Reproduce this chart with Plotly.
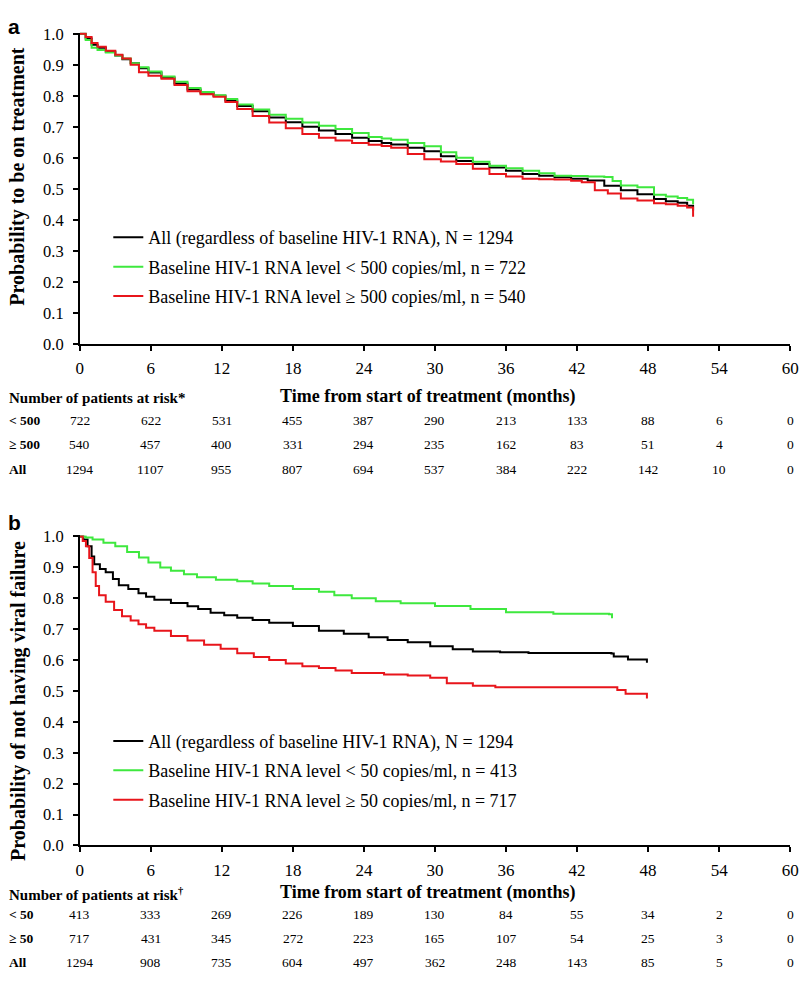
import plotly.graph_objects as go

# ---------------- data ----------------
# Panel a: probability to be on treatment
a_all_t = [0, 0.5, 1.0, 1.5, 2.2, 3.0, 3.6, 4.3, 5.0, 5.8, 6.9, 8.0, 9.1, 10.2, 11.3, 12.3, 13.3, 14.6, 16.0, 17.4,
           18.8, 20.2, 21.6, 23.0, 24.4, 25.5, 26.3, 27.7, 29.1, 30.5, 31.8, 33.2, 34.6, 36.0, 37.4, 38.8, 40.1,
           41.5, 42.9, 44.3, 45.7, 47.1, 48.5, 49.5, 50.5, 51.3, 51.8]
a_all_p = [1.0, 0.985, 0.965, 0.955, 0.942, 0.93, 0.918, 0.905, 0.889, 0.875, 0.859, 0.84, 0.82, 0.81, 0.80, 0.785,
           0.767, 0.75, 0.730, 0.715, 0.70, 0.688, 0.677, 0.665, 0.654, 0.648, 0.643, 0.632, 0.621, 0.605, 0.59,
           0.58, 0.569, 0.558, 0.548, 0.542, 0.537, 0.532, 0.527, 0.51, 0.495, 0.482, 0.467, 0.46, 0.455, 0.445,
           0.43]

a_lo_t = [0, 0.5, 1.0, 1.5, 2.2, 3.0, 3.6, 4.3, 5.0, 5.8, 6.9, 8.0, 9.1, 10.2, 11.3, 12.3, 13.3, 14.6, 16.0, 17.4,
          18.8, 20.2, 21.6, 23.0, 24.4, 25.5, 26.3, 27.7, 29.1, 30.5, 31.8, 33.2, 34.6, 36.0, 37.4, 38.8, 40.1,
          41.5, 42.9, 44.3, 45.0, 45.7, 47.1, 48.5, 49.5, 50.5, 51.3, 51.8]
a_lo_p = [1.0, 0.98, 0.955, 0.948, 0.94, 0.93, 0.92, 0.905, 0.892, 0.878, 0.862, 0.845, 0.825, 0.812, 0.802, 0.79,
          0.772, 0.756, 0.739, 0.726, 0.714, 0.703, 0.693, 0.68, 0.667, 0.662, 0.658, 0.648, 0.637, 0.618, 0.60,
          0.587, 0.574, 0.566, 0.558, 0.55, 0.542, 0.541, 0.54, 0.538, 0.525, 0.511, 0.505, 0.481, 0.475, 0.47,
          0.465, 0.45]

a_hi_t = [0, 0.5, 1.0, 1.5, 2.2, 3.0, 3.6, 4.3, 5.0, 5.8, 6.9, 8.0, 9.1, 10.2, 11.3, 12.3, 13.3, 14.6, 16.0, 17.4,
          18.8, 20.2, 21.6, 23.0, 24.4, 25.5, 26.3, 27.7, 29.1, 30.5, 31.8, 33.2, 34.6, 36.0, 37.4, 38.8, 40.1,
          41.5, 42.4, 43.5, 44.6, 45.7, 47.1, 48.5, 49.5, 50.5, 51.3, 51.8]
a_hi_p = [1.0, 0.99, 0.97, 0.958, 0.945, 0.932, 0.92, 0.9, 0.876, 0.865, 0.855, 0.835, 0.815, 0.805, 0.797, 0.78,
          0.757, 0.735, 0.714, 0.695, 0.677, 0.665, 0.656, 0.648, 0.642, 0.638, 0.632, 0.612, 0.595, 0.588, 0.58,
          0.565, 0.548, 0.54, 0.532, 0.531, 0.53, 0.526, 0.521, 0.495, 0.485, 0.469, 0.462, 0.453, 0.45, 0.445,
          0.44, 0.41]

# Panel b: probability of not having viral failure
b_all_t = [0, 0.3, 0.66, 1.0, 1.22, 1.7, 2.19, 2.8, 3.3, 4.1, 4.96, 5.6, 6.3, 7.7, 9.1, 10.0, 11.05, 12.2, 13.3,
           14.6, 16.0, 18.0, 20.2, 22.3, 24.4, 26.0, 27.7, 29.6, 31.5, 33.2, 35.5, 37.9, 44.9, 45.1, 46.3, 47.9]
b_all_p = [1.0, 0.99, 0.968, 0.935, 0.91, 0.895, 0.884, 0.862, 0.842, 0.83, 0.816, 0.805, 0.795, 0.785, 0.774,
           0.765, 0.753, 0.745, 0.737, 0.73, 0.721, 0.71, 0.695, 0.685, 0.674, 0.665, 0.658, 0.645, 0.635, 0.628,
           0.625, 0.623, 0.621, 0.612, 0.602, 0.591]

b_lo_t = [0, 0.5, 1.08, 2.0, 3.0, 4.0, 5.0, 5.8, 6.8, 7.7, 8.8, 9.9, 11.5, 13.3, 14.6, 16.0, 18.0, 20.2, 21.5,
          22.97, 25.0, 27.1, 30.0, 33.0, 36.0, 40.0, 44.7, 44.95]
b_lo_p = [1.0, 0.997, 0.99, 0.98, 0.968, 0.95, 0.932, 0.916, 0.9, 0.889, 0.878, 0.868, 0.86, 0.855, 0.848, 0.84,
          0.83, 0.821, 0.81, 0.8, 0.79, 0.784, 0.775, 0.765, 0.755, 0.75, 0.748, 0.735]

b_hi_t = [0, 0.25, 0.52, 0.8, 1.08, 1.35, 1.63, 2.19, 2.9, 3.57, 4.3, 4.96, 5.6, 6.3, 7.7, 9.1, 10.5, 11.9, 13.3,
          14.7, 16.0, 17.4, 18.8, 20.2, 21.6, 22.97, 25.7, 27.7, 29.6, 31.0, 33.2, 35.1, 45.3, 45.4, 46.1, 47.9]
b_hi_p = [1.0, 0.985, 0.968, 0.93, 0.884, 0.84, 0.81, 0.789, 0.762, 0.742, 0.728, 0.716, 0.705, 0.695, 0.678,
          0.663, 0.65, 0.637, 0.622, 0.61, 0.6, 0.589, 0.58, 0.574, 0.566, 0.558, 0.553, 0.55, 0.543, 0.525, 0.517,
          0.512, 0.512, 0.503, 0.491, 0.476]

x_ticks = [0, 6, 12, 18, 24, 30, 36, 42, 48, 54, 60]

a_names = ["All (regardless of baseline HIV-1 RNA), N = 1294",
           "Baseline HIV-1 RNA level < 500 copies/ml, n = 722",
           "Baseline HIV-1 RNA level \u2265 500 copies/ml, n = 540"]
b_names = ["All (regardless of baseline HIV-1 RNA), N = 1294",
           "Baseline HIV-1 RNA level < 50 copies/ml, n = 413",
           "Baseline HIV-1 RNA level \u2265 50 copies/ml, n = 717"]

a_risk_labels = ["< 500", "\u2265 500", "All"]
a_risk = [[722, 622, 531, 455, 387, 290, 213, 133, 88, 6, 0],
          [540, 457, 400, 331, 294, 235, 162, 83, 51, 4, 0],
          [1294, 1107, 955, 807, 694, 537, 384, 222, 142, 10, 0]]
b_risk_labels = ["< 50", "\u2265 50", "All"]
b_risk = [[413, 333, 269, 226, 189, 130, 84, 55, 34, 2, 0],
          [717, 431, 345, 272, 223, 165, 107, 54, 25, 3, 0],
          [1294, 908, 735, 604, 497, 362, 248, 143, 85, 5, 0]]

# ---------------- figure ----------------
W, H = 810, 990
SERIF = "Liberation Serif, Times New Roman, serif"
SANS = "Liberation Sans, Arial, sans-serif"
BLACK, GREEN, RED = "#000000", "#3ee83e", "#e8151b"


def fy(p):
    return 1 - p / H


def fx(p):
    return p / W


fig = go.Figure()

series = [
    ("a", a_all_t, a_all_p, BLACK, a_names[0]),
    ("a", a_lo_t, a_lo_p, GREEN, a_names[1]),
    ("a", a_hi_t, a_hi_p, RED, a_names[2]),
    ("b", b_all_t, b_all_p, BLACK, b_names[0]),
    ("b", b_lo_t, b_lo_p, GREEN, b_names[1]),
    ("b", b_hi_t, b_hi_p, RED, b_names[2]),
]
for i, (panel, t, p, col, name) in enumerate(series):
    fig.add_trace(go.Scatter(
        x=t, y=p, mode="lines", name=name,
        line=dict(color=col, width=2, shape="hv"),
        xaxis="x" if panel == "a" else "x2",
        yaxis="y" if panel == "a" else "y2",
        legend="legend" if panel == "a" else "legend2",
        legendgroup=f"g{i}",
    ))

axis_common = dict(showline=True, linecolor="black", linewidth=1.5, showgrid=False, zeroline=False,
                   ticks="outside", ticklen=5, tickwidth=1.5, tickcolor="black", ticklabeloverflow="allow")
xfont = dict(family=SERIF, size=17, color="black")
yfont = dict(family=SERIF, size=16.5, color="black")

x_dom = [fx(77), fx(799)]
legend_common = dict(xanchor="left", yanchor="top", bgcolor="rgba(0,0,0,0)",
                     font=dict(family=SERIF, size=18, color="black"), tracegroupgap=3, itemclick=False)
fig.update_layout(
    width=W, height=H, margin=dict(l=0, r=0, t=0, b=0),
    paper_bgcolor="white", plot_bgcolor="white",
    xaxis=dict(domain=x_dom, range=[0, 60], tickvals=x_ticks, anchor="y", ticklabelstandoff=3,
               tickfont=xfont, **axis_common),
    yaxis=dict(domain=[fy(342), fy(25)], range=[0, 1.004], tickvals=[i / 10 for i in range(11)],
               tickformat=".1f", anchor="x", ticklabelstandoff=6, tickfont=yfont, **axis_common),
    xaxis2=dict(domain=x_dom, range=[0, 60], tickvals=x_ticks, anchor="y2", ticklabelstandoff=3,
                tickfont=xfont, **axis_common),
    yaxis2=dict(domain=[fy(853), fy(537)], range=[0, 1.004], tickvals=[i / 10 for i in range(11)],
                tickformat=".1f", anchor="x2", ticklabelstandoff=6, tickfont=yfont, **axis_common),
    legend=dict(x=fx(106), y=fy(215), **legend_common),
    legend2=dict(x=fx(106), y=fy(728), **legend_common),
    showlegend=True,
)

ann = []
# panel letters
ann.append(dict(text="<b>a</b>", x=fx(2), y=fy(19), xanchor="left", yanchor="middle",
                font=dict(family=SANS, size=21, color="black")))
ann.append(dict(text="<b>b</b>", x=fx(2), y=fy(524), xanchor="left", yanchor="middle",
                font=dict(family=SANS, size=21, color="black")))
# y titles
ann.append(dict(text="<b>Probability to be on treatment</b>", x=fx(14), y=fy(172), textangle=-90,
                xanchor="center", yanchor="middle", font=dict(family=SERIF, size=20, color="black")))
ann.append(dict(text="<b>Probability of not having viral failure</b>", x=fx(14), y=fy(706), textangle=-90,
                xanchor="center", yanchor="middle", font=dict(family=SERIF, size=20, color="black")))

# risk tables
for (title, row_labels, risk, y_title, rows_y, xref) in [
        ("Number of patients at risk*", a_risk_labels, a_risk, 397, [420, 445, 470], "x"),
        ("Number of patients at risk<sup>\u2020</sup>", b_risk_labels, b_risk, 902, [923, 948, 972], "x2")]:
    ann.append(dict(text=f"<b>{title}</b>", x=fx(3), y=fy(y_title), xanchor="left", yanchor="middle",
                    font=dict(family=SERIF, size=15, color="black")))
    ann.append(dict(text="<b>Time from start of treatment (months)</b>", x=fx(430), y=fy(y_title - 1),
                    xanchor="center", yanchor="middle", font=dict(family=SERIF, size=18, color="black")))
    for lab, vals, ry in zip(row_labels, risk, rows_y):
        ann.append(dict(text=f"<b>{lab}</b>", x=fx(3), y=fy(ry), xanchor="left", yanchor="middle",
                        font=dict(family=SERIF, size=13.5, color="black")))
        for t, v in zip(x_ticks, vals):
            ann.append(dict(text=str(v), x=t, xref=xref, y=fy(ry), xanchor="center", yanchor="middle",
                            font=dict(family=SERIF, size=13.5, color="black")))

for a in ann:
    a.setdefault("xref", "paper")
    a["yref"] = "paper"
    a["showarrow"] = False
fig.update_layout(annotations=ann)

# remove the default 8px page margin so the figure fills the 810x990 window exactly
fig.write_html("out.html", config={"displayModeBar": False},
               post_script="document.body.style.margin='0';document.body.style.overflow='hidden';")
